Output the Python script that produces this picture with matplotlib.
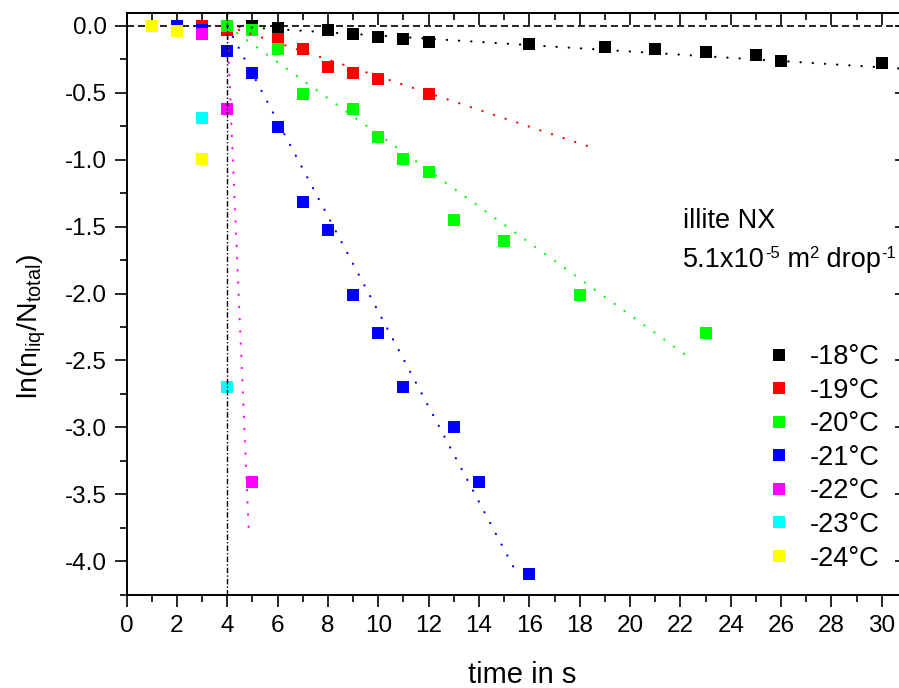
import numpy as np
import matplotlib.pyplot as plt
from matplotlib.ticker import MultipleLocator, FormatStrFormatter

plt.rcParams['font.family'] = ['Liberation Sans', 'DejaVu Sans']
plt.rcParams['mathtext.fontset'] = 'custom'
plt.rcParams['mathtext.rm'] = 'Liberation Sans'
plt.rcParams['axes.unicode_minus'] = False

# messwerte, ln(n_liq/N_total) ueber zeit
t_18 = [4, 5, 6, 8, 9, 10, 11, 12, 16, 19, 21, 23, 25, 26, 30]
y_18 = [0.0, 0.0, -0.017, -0.03, -0.062, -0.08, -0.10, -0.117, -0.135, -0.155,
        -0.174, -0.197, -0.217, -0.259, -0.279]
t_19 = [3, 4, 6, 7, 8, 9, 10, 12]
y_19 = [0.0, -0.03, -0.095, -0.174, -0.304, -0.349, -0.396, -0.508]
t_20 = [4, 5, 6, 7, 9, 10, 11, 12, 13, 15, 18, 23]
y_20 = [0.0, -0.03, -0.174, -0.508, -0.623, -0.832, -0.994, -1.093, -1.45,
        -1.607, -2.008, -2.297]
t_21 = [2, 3, 4, 5, 6, 7, 8, 9, 10, 11, 13, 14, 16]
y_21 = [0.0, -0.03, -0.19, -0.35, -0.757, -1.315, -1.525, -2.008, -2.297,
        -2.70, -2.995, -3.406, -4.096]
t_22 = [3, 4, 5]
y_22 = [-0.06, -0.62, -3.41]
t_23 = [3, 4]
y_23 = [-0.69, -2.70]
t_24 = [1, 2, 3]
y_24 = [0.0, -0.035, -0.994]

labels = ['-18°C', '-19°C', '-20°C', '-21°C', '-22°C', '-23°C', '-24°C']
colors = ['#000000', '#ff0000', '#00ff00', '#0000ff', '#ff00ff', '#00ffff', '#ffff00']

# lineare fits ab t0 = 4 s
fit_t0 = 4.0
fit_slope = [-0.0119, -0.0627, -0.135, -0.3557, -4.41]
fit_t_end = [31.0, 18.3, 22.5, 15.55, 4.85]

W, H = 899, 688
fig = plt.figure(figsize=(W / 100, H / 100), dpi=100)
ax = fig.add_axes([126.5 / W, 1 - 595 / H, (907 - 126.5) / W, (595 - 12.7) / H])

data = [(t_18, y_18), (t_19, y_19), (t_20, y_20), (t_21, y_21),
        (t_22, y_22), (t_23, y_23), (t_24, y_24)]
for (t, y), lab, c in zip(data, labels, colors):
    ax.plot(t, y, 's', color=c, ms=8, mew=0, label=lab, zorder=3, clip_on=False)

for k in range(len(fit_slope)):
    tt = np.array([fit_t0, fit_t_end[k]])
    ax.plot(tt, fit_slope[k] * (tt - fit_t0), color=colors[k], lw=1.6,
            linestyle=(0, (0.1, 5.4)), dash_capstyle='round', zorder=4)

ax.axhline(0, color='black', lw=1.2, linestyle=(0, (4.2, 2.4)), zorder=2)
ax.axvline(4, color='black', lw=1.0, linestyle=(0, (4, 1.5, 1, 1.5)), zorder=5)

ax.set_xlim(0, 31)
ax.set_ylim(-4.253, 0.0994)
ax.xaxis.set_minor_locator(MultipleLocator(1))
ax.yaxis.set_major_locator(MultipleLocator(0.5))
ax.yaxis.set_minor_locator(MultipleLocator(0.25))
ax.yaxis.set_major_formatter(FormatStrFormatter('%.1f'))
ax.set_xticks(np.arange(0, 31, 2))

ax.tick_params(axis='both', which='major', labelsize=17.5, width=1.2, length=8.5)
ax.tick_params(axis='both', which='minor', width=1.2, length=5)
ax.tick_params(axis='x', which='both', direction='out', top=False, pad=6)
ax.tick_params(axis='y', which='both', direction='out', right=False, pad=5.5)
for s in ax.spines.values():
    s.set_linewidth(1.4)

# innenliegende ticks oben und rechts
ax2 = ax.secondary_xaxis('top')
ax2.xaxis.set_major_locator(MultipleLocator(2))
ax2.xaxis.set_minor_locator(MultipleLocator(1))
ax2.tick_params(which='major', direction='in', length=8.5, width=1.2, labeltop=False)
ax2.tick_params(which='minor', direction='in', length=5, width=1.2)
ax3 = ax.secondary_yaxis('right')
ax3.yaxis.set_major_locator(MultipleLocator(0.5))
ax3.yaxis.set_minor_locator(MultipleLocator(0.25))
ax3.tick_params(which='major', direction='in', length=8.5, width=1.2, labelright=False)
ax3.tick_params(which='minor', direction='in', length=5, width=1.2)
ax2.spines['top'].set_linewidth(1.4)
ax3.spines['right'].set_linewidth(1.4)

fig.text(522 / W, 1 - 683 / H, 'time in s', fontsize=21, ha='center', va='baseline')
fig.text(32 / W, 1 - 326 / H, r'ln(n$_{\mathregular{liq}}$/N$_{\mathregular{total}}$)',
         fontsize=20.5, rotation=90, ha='center', va='center')


def chain_text(x0, y0, parts):
    # stueckweise text mit kleinen hochgestellten teilen, x0/y0 in pixel von oben links
    r = fig.canvas.get_renderer()
    x = x0
    for s, fs, rise in parts:
        t = fig.text(x / W, 1 - (y0 - rise) / H, s, fontsize=fs, va='baseline')
        x = t.get_window_extent(r).x1


chain_text(683, 228, [('illite NX', 19.5, 0)])
chain_text(683, 267, [('5.1x10', 19.5, 0), ('-5', 12, 9), (' m', 19.5, 0),
                      ('2', 12, 9), (' drop', 19.5, 0), ('-1', 12, 9)])

ax.legend(loc='upper left', bbox_to_anchor=(765.5 / W, 1 - 344 / H),
          bbox_transform=fig.transFigure, frameon=False, fontsize=19.5,
          borderpad=0, handlelength=1.0, handletextpad=0.65, labelspacing=0.28,
          borderaxespad=0, markerscale=1.0)

fig.savefig('out.png', dpi=100)
